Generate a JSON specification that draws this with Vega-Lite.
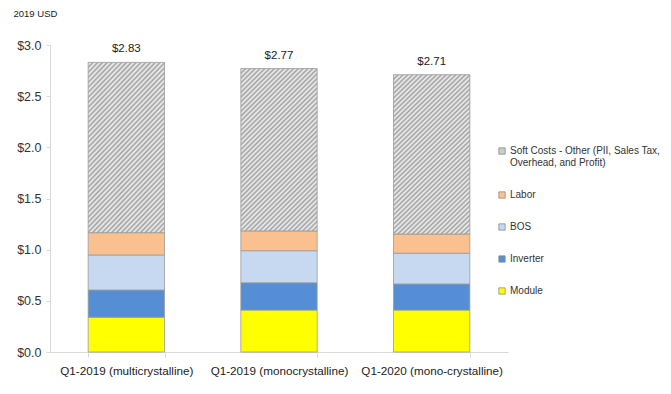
{
  "$schema": "https://vega.github.io/schema/vega-lite/v6.json",
  "width": 458,
  "height": 307,
  "autosize": "none",
  "padding": {"left": 50, "top": 45, "right": 163, "bottom": 42},
  "background": "white",
  "config": {
    "view": {"stroke": null},
    "font": "Liberation Sans"
  },
  "data": {
    "values": [
      {"category": "Q1-2019 (multicrystalline)", "component": "Module", "order": 1, "value": 0.34},
      {"category": "Q1-2019 (multicrystalline)", "component": "Inverter", "order": 2, "value": 0.266},
      {"category": "Q1-2019 (multicrystalline)", "component": "BOS", "order": 3, "value": 0.342},
      {"category": "Q1-2019 (multicrystalline)", "component": "Labor", "order": 4, "value": 0.218},
      {"category": "Q1-2019 (multicrystalline)", "component": "Soft Costs - Other (PII, Sales Tax, Overhead, and Profit)", "order": 5, "value": 1.664},
      {"category": "Q1-2019 (monocrystalline)", "component": "Module", "order": 1, "value": 0.41},
      {"category": "Q1-2019 (monocrystalline)", "component": "Inverter", "order": 2, "value": 0.267},
      {"category": "Q1-2019 (monocrystalline)", "component": "BOS", "order": 3, "value": 0.313},
      {"category": "Q1-2019 (monocrystalline)", "component": "Labor", "order": 4, "value": 0.193},
      {"category": "Q1-2019 (monocrystalline)", "component": "Soft Costs - Other (PII, Sales Tax, Overhead, and Profit)", "order": 5, "value": 1.587},
      {"category": "Q1-2020 (mono-crystalline)", "component": "Module", "order": 1, "value": 0.41},
      {"category": "Q1-2020 (mono-crystalline)", "component": "Inverter", "order": 2, "value": 0.255},
      {"category": "Q1-2020 (mono-crystalline)", "component": "BOS", "order": 3, "value": 0.30},
      {"category": "Q1-2020 (mono-crystalline)", "component": "Labor", "order": 4, "value": 0.188},
      {"category": "Q1-2020 (mono-crystalline)", "component": "Soft Costs - Other (PII, Sales Tax, Overhead, and Profit)", "order": 5, "value": 1.557}
    ]
  },
  "encoding": {
    "x": {
      "field": "category",
      "type": "nominal",
      "sort": null,
      "scale": {"paddingInner": 0.5, "paddingOuter": 0.25},
      "axis": {
        "title": null,
        "labelAngle": 0,
        "labelFontSize": 11.7,
        "labelColor": "#222222",
        "labelPadding": 8,
        "tickBand": "extent",
        "tickSize": 5,
        "tickColor": "#d9d9d9",
        "domainColor": "#d9d9d9",
        "labelLimit": 200
      }
    }
  },
  "layer": [
    {
      "mark": {"type": "bar", "stroke": "#9a9a9a", "strokeWidth": 0.8},
      "encoding": {
        "y": {
          "field": "value",
          "type": "quantitative",
          "aggregate": "sum",
          "stack": "zero",
          "scale": {"domain": [0, 3]},
          "axis": {
            "title": "2019 USD",
            "titleAngle": 0,
            "titleAlign": "left",
            "titleBaseline": "middle",
            "titleX": -37,
            "titleY": -32,
            "titleFontSize": 9.5,
            "titleFontWeight": "normal",
            "titleColor": "#222222",
            "values": [0, 0.5, 1, 1.5, 2, 2.5, 3],
            "format": "$.1f",
            "labelFontSize": 12.5,
            "labelColor": "#333333",
            "labelPadding": 5,
            "tickSize": 4,
            "tickColor": "#d9d9d9",
            "domainColor": "#d9d9d9",
            "grid": false
          }
        },
        "order": {"field": "order", "type": "quantitative"},
        "fill": {
          "condition": {
            "test": "datum.component == 'Soft Costs - Other (PII, Sales Tax, Overhead, and Profit)'",
            "value": {
              "gradient": "linear",
              "x1": 0, "y1": 0, "x2": 0.562, "y2": 1.204,
              "stops": [
                {"offset": 0.00, "color": "#a0a0a0"}, {"offset": 0.01, "color": "#f2f2f2"},
                {"offset": 0.02, "color": "#a0a0a0"}, {"offset": 0.03, "color": "#f2f2f2"},
                {"offset": 0.04, "color": "#a0a0a0"}, {"offset": 0.05, "color": "#f2f2f2"},
                {"offset": 0.06, "color": "#a0a0a0"}, {"offset": 0.07, "color": "#f2f2f2"},
                {"offset": 0.08, "color": "#a0a0a0"}, {"offset": 0.09, "color": "#f2f2f2"},
                {"offset": 0.10, "color": "#a0a0a0"}, {"offset": 0.11, "color": "#f2f2f2"},
                {"offset": 0.12, "color": "#a0a0a0"}, {"offset": 0.13, "color": "#f2f2f2"},
                {"offset": 0.14, "color": "#a0a0a0"}, {"offset": 0.15, "color": "#f2f2f2"},
                {"offset": 0.16, "color": "#a0a0a0"}, {"offset": 0.17, "color": "#f2f2f2"},
                {"offset": 0.18, "color": "#a0a0a0"}, {"offset": 0.19, "color": "#f2f2f2"},
                {"offset": 0.20, "color": "#a0a0a0"}, {"offset": 0.21, "color": "#f2f2f2"},
                {"offset": 0.22, "color": "#a0a0a0"}, {"offset": 0.23, "color": "#f2f2f2"},
                {"offset": 0.24, "color": "#a0a0a0"}, {"offset": 0.25, "color": "#f2f2f2"},
                {"offset": 0.26, "color": "#a0a0a0"}, {"offset": 0.27, "color": "#f2f2f2"},
                {"offset": 0.28, "color": "#a0a0a0"}, {"offset": 0.29, "color": "#f2f2f2"},
                {"offset": 0.30, "color": "#a0a0a0"}, {"offset": 0.31, "color": "#f2f2f2"},
                {"offset": 0.32, "color": "#a0a0a0"}, {"offset": 0.33, "color": "#f2f2f2"},
                {"offset": 0.34, "color": "#a0a0a0"}, {"offset": 0.35, "color": "#f2f2f2"},
                {"offset": 0.36, "color": "#a0a0a0"}, {"offset": 0.37, "color": "#f2f2f2"},
                {"offset": 0.38, "color": "#a0a0a0"}, {"offset": 0.39, "color": "#f2f2f2"},
                {"offset": 0.40, "color": "#a0a0a0"}, {"offset": 0.41, "color": "#f2f2f2"},
                {"offset": 0.42, "color": "#a0a0a0"}, {"offset": 0.43, "color": "#f2f2f2"},
                {"offset": 0.44, "color": "#a0a0a0"}, {"offset": 0.45, "color": "#f2f2f2"},
                {"offset": 0.46, "color": "#a0a0a0"}, {"offset": 0.47, "color": "#f2f2f2"},
                {"offset": 0.48, "color": "#a0a0a0"}, {"offset": 0.49, "color": "#f2f2f2"},
                {"offset": 0.50, "color": "#a0a0a0"}, {"offset": 0.51, "color": "#f2f2f2"},
                {"offset": 0.52, "color": "#a0a0a0"}, {"offset": 0.53, "color": "#f2f2f2"},
                {"offset": 0.54, "color": "#a0a0a0"}, {"offset": 0.55, "color": "#f2f2f2"},
                {"offset": 0.56, "color": "#a0a0a0"}, {"offset": 0.57, "color": "#f2f2f2"},
                {"offset": 0.58, "color": "#a0a0a0"}, {"offset": 0.59, "color": "#f2f2f2"},
                {"offset": 0.60, "color": "#a0a0a0"}, {"offset": 0.61, "color": "#f2f2f2"},
                {"offset": 0.62, "color": "#a0a0a0"}, {"offset": 0.63, "color": "#f2f2f2"},
                {"offset": 0.64, "color": "#a0a0a0"}, {"offset": 0.65, "color": "#f2f2f2"},
                {"offset": 0.66, "color": "#a0a0a0"}, {"offset": 0.67, "color": "#f2f2f2"},
                {"offset": 0.68, "color": "#a0a0a0"}, {"offset": 0.69, "color": "#f2f2f2"},
                {"offset": 0.70, "color": "#a0a0a0"}, {"offset": 0.71, "color": "#f2f2f2"},
                {"offset": 0.72, "color": "#a0a0a0"}, {"offset": 0.73, "color": "#f2f2f2"},
                {"offset": 0.74, "color": "#a0a0a0"}, {"offset": 0.75, "color": "#f2f2f2"},
                {"offset": 0.76, "color": "#a0a0a0"}, {"offset": 0.77, "color": "#f2f2f2"},
                {"offset": 0.78, "color": "#a0a0a0"}, {"offset": 0.79, "color": "#f2f2f2"},
                {"offset": 0.80, "color": "#a0a0a0"}, {"offset": 0.81, "color": "#f2f2f2"},
                {"offset": 0.82, "color": "#a0a0a0"}, {"offset": 0.83, "color": "#f2f2f2"},
                {"offset": 0.84, "color": "#a0a0a0"}, {"offset": 0.85, "color": "#f2f2f2"},
                {"offset": 0.86, "color": "#a0a0a0"}, {"offset": 0.87, "color": "#f2f2f2"},
                {"offset": 0.88, "color": "#a0a0a0"}, {"offset": 0.89, "color": "#f2f2f2"},
                {"offset": 0.90, "color": "#a0a0a0"}, {"offset": 0.91, "color": "#f2f2f2"},
                {"offset": 0.92, "color": "#a0a0a0"}, {"offset": 0.93, "color": "#f2f2f2"},
                {"offset": 0.94, "color": "#a0a0a0"}, {"offset": 0.95, "color": "#f2f2f2"},
                {"offset": 0.96, "color": "#a0a0a0"}, {"offset": 0.97, "color": "#f2f2f2"},
                {"offset": 0.98, "color": "#a0a0a0"}, {"offset": 0.99, "color": "#f2f2f2"},
                {"offset": 1.00, "color": "#a0a0a0"}
              ]
            }
          },
          "field": "component",
          "type": "nominal",
          "scale": {
            "domain": ["Soft Costs - Other (PII, Sales Tax, Overhead, and Profit)", "Labor", "BOS", "Inverter", "Module"],
            "range": ["#cbcbcb", "#fac090", "#c6d9f1", "#558ed5", "#ffff00"]
          },
          "legend": {
            "title": null,
            "orient": "none",
            "legendX": 447,
            "legendY": 101,
            "symbolType": "square",
            "symbolSize": 40,
            "symbolStrokeColor": "#8c8c8c",
            "symbolStrokeWidth": 0.8,
            "labelFontSize": 10,
            "labelColor": "#333333",
            "labelLimit": 200,
            "rowPadding": 22,
            "labelOffset": 3,
            "labelExpr": "datum.label == 'Soft Costs - Other (PII, Sales Tax, Overhead, and Profit)' ? ['Soft Costs - Other (PII, Sales Tax,', 'Overhead, and Profit)'] : datum.label"
          }
        }
      }
    },
    {
      "mark": {"type": "text", "dy": -13, "fontSize": 11.5, "color": "#222222"},
      "transform": [{"aggregate": [{"op": "sum", "field": "value", "as": "total"}], "groupby": ["category"]}],
      "encoding": {
        "y": {"field": "total", "type": "quantitative"},
        "text": {"field": "total", "type": "quantitative", "format": "$.2f"}
      }
    }
  ]
}
